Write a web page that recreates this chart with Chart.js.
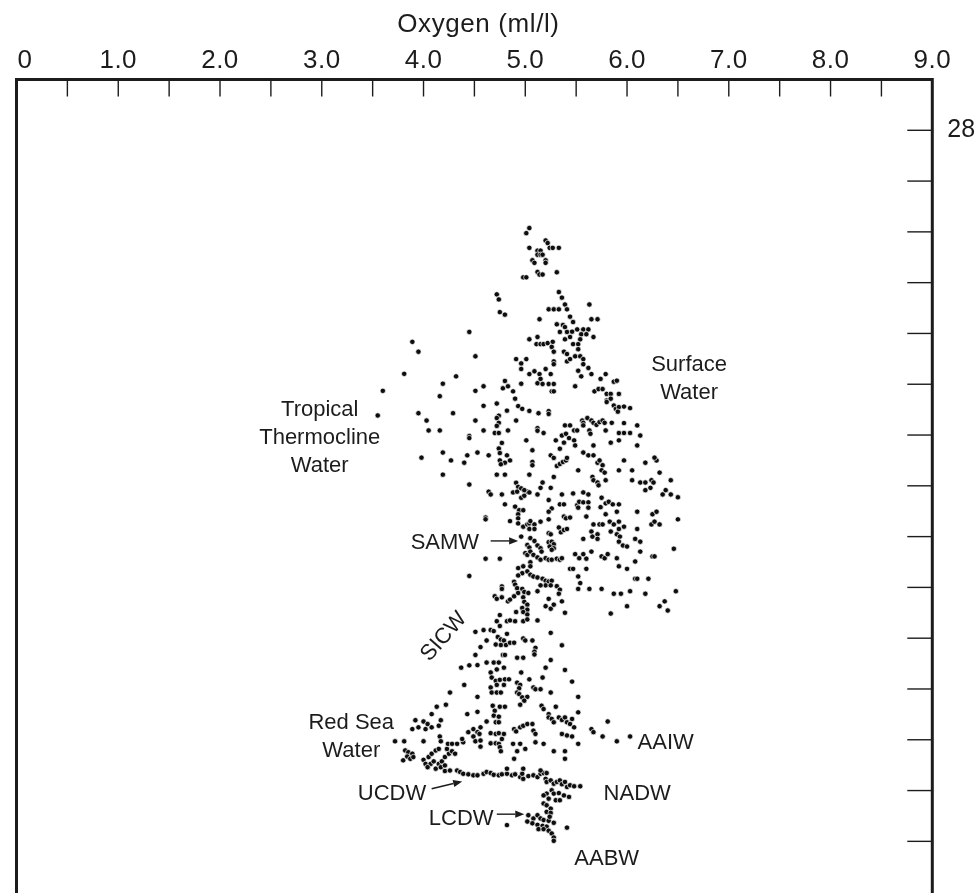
<!DOCTYPE html>
<html>
<head>
<meta charset="utf-8">
<script src="https://cdn.jsdelivr.net/npm/chart.js@4.4.1/dist/chart.umd.min.js"></script>
<style>
  html, body { margin: 0; padding: 0; background: #ffffff; }
  #wrap { width: 979px; height: 893px; }
</style>
</head>
<body>
<div id="wrap"><canvas id="chart" width="979" height="893"></canvas></div>
<script>
// Oxygen (ml/l) versus potential temperature (°C), Indian Ocean stations.
// Each entry is [oxygen, temperature].

const surfaceWater = [
  [5.04,24.15],[5.01,23.95],[5.20,23.66],[5.22,23.56],[5.04,23.37],[5.24,23.37],[5.27,23.37],[5.33,23.37],
  [5.12,23.26],[5.15,23.26],[5.12,23.10],[5.15,23.10],[5.17,23.10],[5.07,22.88],[5.09,22.78],[5.20,22.88],
  [5.20,22.78],[5.31,22.41],[5.12,22.42],[5.14,22.32],[5.17,22.32],[4.98,22.21],[5.01,22.21],[4.72,21.54],
  [4.74,21.34],[5.33,21.63],[5.36,21.41],
  [5.39,21.14],[5.63,21.14],[5.23,20.95],[5.28,20.95],[5.33,20.95],[5.41,20.95],[5.44,20.66],[5.47,20.45],
  [5.65,20.56],[5.71,20.56],[5.31,20.36],[5.37,20.33],[5.39,20.25],[5.51,20.16],[5.57,20.16],[5.62,20.16],
  [5.34,20.06],[5.41,20.06],[5.46,20.07],[5.55,19.97],[5.60,19.97],[5.67,19.86],[5.39,19.77],[5.44,19.86],
  [5.11,19.58],[5.15,19.58],[5.18,19.58],[5.22,19.62],[5.27,19.67],[5.26,19.47],[5.47,19.58],[5.52,19.58],
  [5.54,19.77],[5.52,19.38],[5.28,19.28],[5.38,19.28],[5.41,19.19],[5.49,19.10],[5.54,19.10],[5.57,18.99],
  [5.57,18.79],[5.41,18.90],[5.44,18.99],[5.28,18.90],[5.28,18.79],[5.52,18.53],[5.55,18.31],[5.62,18.64],
  [5.65,18.40],[5.74,18.21],[5.79,18.40],[5.14,18.40],[5.20,18.60],[5.25,18.40],[5.15,18.21],[5.17,18.01],
  [5.23,18.01],[5.28,18.01],[5.87,18.10],[5.90,18.14],[5.49,17.92],[5.68,17.72],[5.72,17.81],[5.76,17.81],
  [5.80,17.62],[5.84,17.62],[5.92,17.62],[5.80,17.36],[5.84,17.43],[5.80,17.30],[5.87,17.16],[5.89,17.03],
  [5.92,17.10],[5.91,16.92],[5.97,17.12],[6.03,17.06],[5.26,17.72],[5.28,17.72],[5.23,16.94],[5.23,16.83],
  [5.56,16.57],[5.57,16.48],[5.61,16.67],[5.65,16.57],[5.67,16.48],[5.70,16.40],[5.73,16.51],[5.76,16.57],
  [5.78,16.48],[5.85,16.48],[5.97,16.47],[6.10,16.38],[5.39,16.38],[5.44,16.38],[5.48,16.18],[5.51,16.18],
  [5.18,16.08],[5.57,16.38],[5.63,16.18],[5.36,15.98],[5.40,16.05],[5.43,15.88],[5.48,15.79],[5.49,15.59],
  [5.38,15.70],[5.30,15.79],[5.34,15.46],[5.64,16.05],[5.79,16.18],[5.92,16.08],[5.97,16.08],[6.03,16.08],
  [6.13,15.98],[5.92,15.79],[5.84,15.70],[6.10,15.59],[5.67,15.59],[5.25,15.20],[5.28,15.10],[5.41,15.10],
  [5.57,15.31],[5.62,15.20],[5.67,15.20],[6.27,15.11]
];

const thermoclineWater = [
  [4.75,20.84],[4.80,20.74],[5.14,20.56],[4.45,20.06],[5.04,19.77],[5.12,19.86],[3.89,19.67],[3.95,19.28],
  [4.51,19.10],[4.91,18.99],[4.96,18.82],[5.01,18.99],[4.96,18.60],[5.04,18.40],[5.09,18.51],[5.12,18.04],
  [3.81,18.41],[4.32,18.31],[4.19,18.02],[4.80,18.13],[4.78,17.84],[4.83,17.92],[4.88,17.72],[4.59,17.92],
  [4.51,17.74],[4.96,18.02],[3.60,17.74],[4.16,17.53],[4.90,17.43],[4.93,17.14],[4.97,17.03],[4.72,17.24],
  [4.59,17.15],[4.82,16.96],[5.04,16.95],[5.13,16.86],[3.55,16.77],[3.95,16.86],[4.29,16.86],[4.03,16.57],
  [4.74,16.76],[4.72,16.67],[4.74,16.48],[4.72,16.36],[4.91,16.57],[4.51,16.57],[4.05,16.18],[4.16,16.18],
  [4.59,16.18],[4.70,16.08],[4.74,16.08],[4.83,16.18],[5.12,16.27],[5.12,16.17],[4.45,15.96],[4.45,15.88],
  [5.01,15.79],[4.77,15.69],[5.07,15.40],[4.74,15.47],[3.98,15.11],[4.19,15.31],[4.27,15.00],[4.43,15.20],
  [4.40,14.91],[4.53,15.31],[4.64,15.20],[4.75,15.29],[4.75,15.00],[4.82,15.20],[4.85,15.00],[4.80,14.91],
  [4.76,14.85],[5.07,14.94],[5.07,14.81]
];

const modeWater = [
  [5.31,14.78],[5.34,14.86],[5.37,14.94],[5.40,15.00],[5.71,14.91],[5.73,15.00],[5.76,14.81],[5.75,14.61],
  [5.78,14.52],[5.97,15.00],[6.18,14.91],[6.29,15.00],[5.52,14.61],[5.28,14.35],[5.66,14.35],[5.67,14.22],
  [5.71,14.13],[5.72,14.02],[5.79,14.22],[5.92,14.61],[6.05,14.61],[6.05,14.22],[6.13,14.13],[6.18,14.13],
  [6.24,14.22],[6.26,14.13],[6.23,13.92],[6.18,13.83],[6.32,14.52],[6.43,14.22],[6.38,13.83],[6.35,13.66],
  [6.43,13.66],[6.50,13.55],[5.17,14.13],[5.15,13.92],[5.25,13.92],[5.12,13.66],[5.36,13.66],[5.47,13.70],
  [5.57,13.74],[5.62,13.66],[5.23,13.44],[5.34,13.27],[5.38,13.27],[5.26,13.11],[5.23,12.98],[5.51,13.24],
  [5.53,13.37],[5.57,13.35],[5.62,13.35],[5.52,13.14],[5.62,13.14],[5.75,13.53],[5.74,13.16],[5.79,13.31],
  [5.82,13.37],[5.86,13.27],[5.92,13.27],[6.10,12.98],[6.25,12.88],[6.29,12.98],[6.24,12.48],[6.27,12.59],
  [6.32,12.48],[6.50,12.68],[5.79,12.88],[5.90,12.98],[5.60,12.79],[5.38,12.79],[5.40,12.72],[5.44,12.75],
  [5.05,12.61],[5.09,12.48],[5.09,12.30],[5.15,12.59],[5.23,12.68],[5.33,12.36],[5.35,12.17],[5.38,12.26],
  [5.41,12.30],[5.23,12.13],[5.25,12.09],[5.67,12.48],[5.73,12.48],[5.76,12.48],[5.83,12.59],[5.87,12.48],
  [5.92,12.59],[5.97,12.39],[5.92,12.30],[6.10,12.30],[5.05,11.94],[5.09,11.83],[5.12,11.65],[5.15,11.54],
  [5.16,11.41],[5.23,11.78],[5.26,11.80],[5.28,11.70],[5.24,11.61],[5.28,11.54],[5.26,11.48],[5.65,12.20],
  [5.66,12.00],[5.71,12.09],[5.71,11.91],[5.57,11.91],[5.84,12.20],[5.90,12.09],[5.93,12.00],[5.92,11.80],
  [5.96,11.65],[6.00,11.61],[6.08,11.91],[6.13,11.80],[5.05,11.41],[5.08,11.28],[5.12,11.18],[5.15,11.09],
  [5.20,11.15],[5.23,11.09],[5.26,11.09],[5.31,11.13],[5.34,11.09],[5.36,11.15],[6.13,11.41],[6.46,11.52],
  [5.49,11.31],[5.57,11.31],[5.53,11.15],[5.60,11.13],[5.65,11.41],[5.75,11.22],[5.78,11.15],[5.81,11.31],
  [5.90,11.15],[5.92,10.83],[6.08,11.02],[6.25,11.22],[6.27,11.22],[5.05,10.99],[5.05,10.83],[5.44,10.73],
  [5.47,10.73],[5.60,10.73],[6.00,10.73],[5.05,10.50],[5.08,10.43],[5.12,10.39],[5.17,10.34],[5.20,10.26],
  [5.23,10.23],[5.26,10.26],[5.20,10.08],[5.25,10.08],[5.31,10.05],[5.15,10.08],[5.12,9.85],[5.52,10.43],
  [5.54,10.17],[5.52,9.94],[5.63,9.94],[5.75,9.94],[6.08,10.34],[6.10,10.34],[6.21,10.34],[5.87,9.75],
  [5.94,9.75],[6.03,9.85],[6.18,9.75],[5.34,9.91],[5.33,9.75],[5.36,9.45],[5.23,9.55],[5.20,9.26],
  [5.25,9.16],[5.28,9.32],[5.39,9.00],[5.12,8.70],[5.84,8.97],[6.00,9.26],[6.32,9.26],[6.37,9.45],
  [6.40,9.09],[6.48,9.85]
];

const centralWater = [
  [4.19,14.44],[4.72,14.44],[4.80,14.44],[5.04,14.44],[4.45,14.05],[4.64,13.77],[4.66,13.66],[4.77,13.66],
  [4.91,14.12],[4.93,13.96],[4.88,13.74],[4.92,13.77],[4.96,13.53],[4.99,13.61],[5.02,13.77],[5.04,13.74],
  [4.96,13.90],[4.99,13.83],[4.80,13.27],[4.90,13.18],[4.94,13.04],[4.98,13.04],[4.61,12.75],[4.61,12.68],
  [4.85,12.61],[4.93,12.88],[4.93,12.72],[4.93,12.52],[4.98,12.39],[5.02,12.48],[5.04,12.52],[5.04,12.30],
  [4.96,12.00],[5.02,11.67],[5.04,11.57],[5.00,11.35],[5.02,11.28],[4.61,11.13],[4.75,11.13],[4.93,10.76],
  [4.98,10.83],[5.02,10.63],[4.97,10.56],[4.93,10.47],[4.45,10.45],[4.89,10.22],[4.90,10.11],[4.92,9.97],
  [4.77,10.04],[4.77,9.94],[4.97,9.94],[4.99,9.82],[5.03,9.78],[4.93,9.78],[4.70,9.65],[4.72,9.55],
  [4.77,9.61],[4.83,9.45],[4.85,9.52],[4.89,9.65],[4.98,9.61],[4.99,9.43],[5.02,9.32],[4.97,9.19],
  [5.02,9.12],[4.98,9.03],[5.02,8.93],[4.91,9.03],[4.75,8.91],[4.72,8.67],[4.75,8.48],[4.82,8.67],
  [4.85,8.70],[4.90,8.67],[4.98,8.67],[5.02,8.74]
];

const intermediateWater = [
  [4.51,8.25],[4.59,8.32],[4.66,8.32],[4.69,8.28],[4.73,8.05],[4.76,7.95],[4.79,7.91],[4.82,8.17],
  [4.62,7.91],[4.56,7.65],[4.71,7.75],[4.76,7.73],[4.81,7.73],[4.85,7.82],[4.89,7.82],[4.98,7.99],
  [5.00,7.91],[5.07,7.91],[5.10,7.62],[5.09,7.47],[5.25,8.21],[5.36,7.72],[4.51,7.34],[4.78,7.34],
  [4.80,7.34],[4.92,7.23],[4.98,7.23],[5.09,7.36],[5.25,7.14],[4.37,6.84],[4.45,6.93],[4.53,6.94],
  [4.62,7.04],[4.69,7.04],[4.74,7.04],[4.72,6.77],[4.79,6.84],[4.96,6.65],[5.20,6.84],[5.39,6.75],
  [4.66,6.65],[4.67,6.45],[4.71,6.32],[4.75,6.36],[4.80,6.38],[4.84,6.38],[4.66,6.06],[4.72,6.16],
  [4.79,6.16],[4.92,6.25],[4.95,6.16],[4.94,6.03],[5.04,6.38],[5.08,6.06],[5.10,5.99],[5.15,5.99],
  [5.17,6.45],[5.46,6.29],[4.40,6.16],[4.26,5.86],[4.53,5.69],[4.67,5.86],[4.72,5.86],[4.76,5.86],
  [4.92,5.86],[4.94,5.80],[4.97,5.67],[5.02,5.69],[4.99,5.54],[5.25,5.86],[5.52,5.69],[4.68,5.34],
  [4.75,5.30],[4.80,5.30],[4.70,5.14],[4.95,5.38],[5.16,5.34],[5.18,5.21],[5.23,5.01],[5.30,5.30],
  [4.13,5.30],[4.22,5.38],[4.08,5.01],[4.43,5.01],[4.53,5.10],[4.69,4.95],[4.74,4.91],[4.71,4.69],
  [4.74,4.69],[4.62,4.72],[5.23,4.88],[5.26,4.82],[5.28,4.69],[5.33,4.88],[5.36,4.78],[5.39,4.88],
  [5.41,4.69],[5.44,4.62],[5.46,4.82],[5.48,4.49],[5.52,5.08],[3.92,4.77],[4.00,4.72],[4.04,4.62],
  [4.17,4.77],[3.89,4.42],[3.95,4.49],[4.02,4.42],[4.08,4.49],[4.15,4.55],[4.89,4.42],[4.91,4.33],
  [4.95,4.49],[4.98,4.55],[5.02,4.62],[5.07,4.62],[5.08,4.36],[5.10,4.23],[4.44,4.30],[4.49,4.42],
  [4.53,4.30],[4.56,4.49],[4.55,4.23],[4.66,4.26],[4.71,4.23],[4.74,4.26],[4.79,4.23],[5.36,4.23],
  [5.41,4.17],[5.46,4.13],[5.52,3.84],[5.65,4.42],[5.67,4.30],[5.76,4.13],[5.81,4.72],[5.90,3.94],
  [6.03,4.13],[4.16,4.13],[4.17,3.94],[4.24,3.84],[4.28,3.84],[4.33,3.84],[4.39,3.90],[4.38,4.03],
  [4.49,4.13],[4.51,3.94],[4.56,3.97],[4.56,3.73],[4.66,3.86],[4.71,3.86],[4.74,3.84],[4.75,3.71],
  [4.77,4.03],[4.76,3.55],[4.88,3.84],[4.92,3.55],[4.95,3.84],[5.00,3.64],[5.10,3.90],[5.18,3.84],
  [5.28,3.55],[5.39,3.55],[4.89,3.25],[5.39,3.25]
];

const redSeaWater = [
  [3.72,3.94],[3.81,3.94],[4.00,3.94],[3.82,3.58],[3.85,3.51],[3.89,3.45],[3.84,3.34],[3.87,3.25],
  [3.90,3.32],[3.80,3.19],[4.00,3.21],[4.05,3.32],[4.08,3.45],[4.12,3.58],[4.02,3.05],[4.07,3.05],
  [4.10,3.15],[4.15,3.05],[4.18,3.15],[4.21,3.32],[4.25,3.45],[4.28,3.55],[4.31,3.45],[4.04,2.92],
  [4.12,2.86],[4.17,2.92],[4.21,2.99],[4.15,3.64],[4.23,3.64]
];

const upperDeepWater = [
  [4.21,2.77],[4.26,2.79],[4.33,2.79],[4.36,2.73],[4.39,2.66],[4.44,2.64],[4.49,2.60],[4.53,2.60],
  [4.59,2.66],[4.62,2.73],[4.66,2.69],[4.69,2.62],[4.74,2.60],[4.77,2.64],[4.82,2.66],[4.87,2.60],
  [4.90,2.64],[4.95,2.53],[4.97,2.66],[4.98,2.46],[5.03,2.57],[5.08,2.60],[5.12,2.53],[5.15,2.66],
  [5.18,2.69],[5.21,2.69],[4.82,2.86],[4.98,2.86],[5.15,2.79]
];

const northAtlanticDeepWater = [
  [5.20,2.46],[5.21,2.34],[5.25,2.40],[5.28,2.27],[5.31,2.34],[5.34,2.40],[5.36,2.25],[5.39,2.34],
  [5.41,2.14],[5.44,2.21],[5.48,2.17],[5.54,2.17],[5.26,2.01],[5.21,1.88],[5.28,1.88],[5.33,1.90],
  [5.38,1.81],[5.43,1.75],[5.18,1.81],[5.23,1.68],[5.30,1.62],[5.34,1.62],[5.18,1.49],[5.21,1.42],
  [5.25,1.29],[5.21,1.16],[5.25,1.12],[5.24,0.97]
];

const lowerDeepWater = [
  [5.03,1.03],[5.08,0.90],[5.12,1.03],[5.15,0.90],[5.18,0.84],[5.23,0.81],[5.28,0.73],[5.02,0.78],
  [5.07,0.71],[5.12,0.65],[5.17,0.61],[5.21,0.58],[5.13,0.48],[5.18,0.48],[5.23,0.42],[5.26,0.31],
  [5.28,0.15],[5.28,0.02],[5.41,0.54],[4.82,0.64]
];

// Axis ticks
const oxygenTickValues = [0,0.5,1,1.5,2,2.5,3,3.5,4,4.5,5,5.5,6,6.5,7,7.5,8,8.5,9];
const oxygenTickLabels = ['0','','1.0','','2.0','','3.0','','4.0','','5.0','','6.0','','7.0','','8.0','','9.0'];
const tempTickValues = [0,2,4,6,8,10,12,14,16,18,20,22,24,26,28];
const tempTickLabels = ['','','','','','','','','','','','','','','28'];
const oxygenTitle = 'Oxygen (ml/l)';

// Water-mass labels, anchored in data coordinates (oxygen, temperature)
const waterMassLabels = [
  { lines: ['Surface', 'Water'], x: 6.61, y: 18.53 },
  { lines: ['Tropical', 'Thermocline', 'Water'], x: 2.98, y: 16.76 },
  { lines: ['SAMW'], x: 4.21, y: 11.52, arrow: [4.66, 11.83, 4.93, 11.83] },
  { lines: ['SICW'], x: 4.20, y: 8.06, rotate: -49 },
  { lines: ['Red Sea', 'Water'], x: 3.29, y: 4.42 },
  { lines: ['AAIW'], x: 6.38, y: 3.64 },
  { lines: ['UCDW'], x: 3.69, y: 1.62, arrow: [4.08, 2.07, 4.38, 2.36] },
  { lines: ['NADW'], x: 6.10, y: 1.63 },
  { lines: ['LCDW'], x: 4.37, y: 0.64, arrow: [4.72, 1.07, 4.99, 1.07] },
  { lines: ['AABW'], x: 5.80, y: -0.92 }
];

const INK = '#1c1c1c';
const FONT_AXIS = '26px "Liberation Sans", Arial, Helvetica, sans-serif';
const FONT_LABEL = '22px "Liberation Sans", Arial, Helvetica, sans-serif';

function toPoints(arr) { return arr.map(p => ({ x: p[0], y: p[1] })); }

const groups = [surfaceWater, thermoclineWater, modeWater, centralWater, intermediateWater,
                redSeaWater, upperDeepWater, northAtlanticDeepWater, lowerDeepWater];

function drawArrow(ctx, x1, y1, x2, y2) {
  const ang = Math.atan2(y2 - y1, x2 - x1);
  const head = 9, half = 3.6;
  const bx = x2 - head * Math.cos(ang), by = y2 - head * Math.sin(ang);
  ctx.beginPath();
  ctx.moveTo(x1, y1);
  ctx.lineTo(bx, by);
  ctx.lineWidth = 1.4;
  ctx.stroke();
  ctx.beginPath();
  ctx.moveTo(x2, y2);
  ctx.lineTo(bx + half * Math.sin(ang), by - half * Math.cos(ang));
  ctx.lineTo(bx - half * Math.sin(ang), by + half * Math.cos(ang));
  ctx.closePath();
  ctx.fill();
}

function setSpacing(ctx, value) {
  if ('letterSpacing' in ctx) ctx.letterSpacing = value;
}

const framePlugin = {
  id: 'frame',
  afterDatasetsDraw(chart) {
    const { ctx, chartArea: a, scales: { x, y } } = chart;
    ctx.save();
    ctx.strokeStyle = INK;
    ctx.fillStyle = INK;

    // box: left, top and right sides
    ctx.lineWidth = 3;
    ctx.lineJoin = 'miter';
    ctx.beginPath();
    ctx.moveTo(a.left, a.bottom + 4);
    ctx.lineTo(a.left, a.top);
    ctx.lineTo(a.right, a.top);
    ctx.lineTo(a.right, a.bottom + 4);
    ctx.stroke();

    // oxygen ticks (inward from the top edge) and labels
    ctx.lineWidth = 1.4;
    ctx.font = FONT_AXIS;
    setSpacing(ctx, '0.5px');
    ctx.textBaseline = 'alphabetic';
    oxygenTickValues.forEach((v, i) => {
      const px = x.getPixelForValue(v);
      if (i > 0 && i < oxygenTickValues.length - 1) {
        ctx.beginPath();
        ctx.moveTo(px, a.top);
        ctx.lineTo(px, a.top + 17);
        ctx.stroke();
      }
      const label = oxygenTickLabels[i];
      if (label) {
        ctx.textAlign = i === 0 ? 'left' : 'center';
        ctx.fillText(label, i === 0 ? px + 1 : px, a.top - 11.5);
      }
    });

    // axis title
    ctx.textAlign = 'center';
    setSpacing(ctx, '0.6px');
    ctx.fillText(oxygenTitle, (a.left + a.right) / 2 + 4, a.top - 48);

    // temperature ticks (inward from the right edge)
    setSpacing(ctx, '0px');
    ctx.font = '25px "Liberation Sans", Arial, Helvetica, sans-serif';
    tempTickValues.forEach((v, i) => {
      const py = y.getPixelForValue(v);
      ctx.beginPath();
      ctx.moveTo(a.right - 25, py);
      ctx.lineTo(a.right, py);
      ctx.stroke();
      const label = tempTickLabels[i];
      if (label) {
        ctx.textAlign = 'left';
        ctx.textBaseline = 'middle';
        ctx.fillText(label, a.right + 15, py);
        ctx.textBaseline = 'alphabetic';
      }
    });

    // water-mass labels
    ctx.font = FONT_LABEL;
    waterMassLabels.forEach(lb => {
      const px = x.getPixelForValue(lb.x);
      const py = y.getPixelForValue(lb.y);
      if (lb.rotate) {
        ctx.save();
        ctx.translate(px, py);
        ctx.rotate(lb.rotate * Math.PI / 180);
        ctx.textAlign = 'center';
        ctx.textBaseline = 'middle';
        ctx.fillText(lb.lines[0], 0, 0);
        ctx.restore();
      } else {
        ctx.textAlign = 'center';
        ctx.textBaseline = 'alphabetic';
        lb.lines.forEach((t, k) => ctx.fillText(t, px, py + k * 28.3));
      }
      if (lb.arrow) {
        const [ax1, ay1, ax2, ay2] = lb.arrow;
        drawArrow(ctx, x.getPixelForValue(ax1), y.getPixelForValue(ay1),
                       x.getPixelForValue(ax2), y.getPixelForValue(ay2));
      }
    });
    ctx.restore();
  }
};

new Chart(document.getElementById('chart'), {
  type: 'scatter',
  data: {
    datasets: groups.map(g => ({
      data: toPoints(g),
      pointRadius: 2.7,
      pointBackgroundColor: '#0d0d0d',
      pointBorderColor: '#ffffff',
      pointBorderWidth: 0.7,
      pointHoverRadius: 2.7
    }))
  },
  options: {
    responsive: false,
    animation: false,
    devicePixelRatio: 1,
    layout: { padding: { left: 16.5, top: 79.5, right: 46.7, bottom: 0 } },
    plugins: { legend: { display: false }, tooltip: { enabled: false } },
    events: [],
    scales: {
      x: { type: 'linear', min: 0, max: 9, display: false },
      y: { type: 'linear', min: -1.9, max: 30, display: false }
    }
  },
  plugins: [framePlugin]
});
</script>
</body>
</html>
